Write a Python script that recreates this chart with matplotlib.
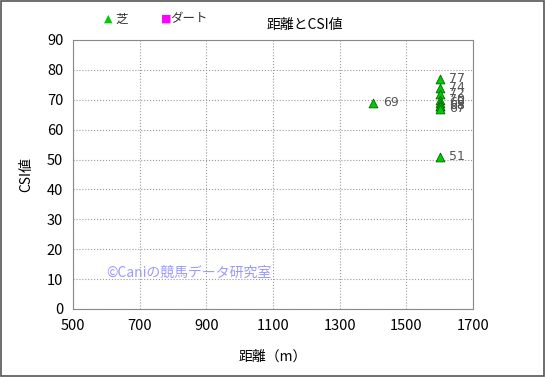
import matplotlib
matplotlib.use("Agg")
import matplotlib.pyplot as plt
from matplotlib.patches import Rectangle

plt.rcParams['font.family'] = ['Noto Sans CJK JP', 'DejaVu Sans']

# turf (芝) races: distance and CSI value
turf_dist = [1400, 1600, 1600, 1600, 1600, 1600, 1600, 1600, 1600, 1600]
turf_csi = [69, 77, 74, 72, 70, 69, 68, 68, 67, 51]
# dirt (ダート) races: none
dirt_dist = []
dirt_csi = []

x_ticks = [500, 700, 900, 1100, 1300, 1500, 1700]
y_ticks = [0, 10, 20, 30, 40, 50, 60, 70, 80, 90]

fig = plt.figure(figsize=(5.45, 3.77), dpi=100)
ax = fig.add_axes([73 / 545, 1 - 309 / 377, 400 / 545, 269 / 377])

ax.scatter(turf_dist, turf_csi, marker='^', s=40, c='#00cc00',
           edgecolors='#006600', linewidths=0.6, zorder=3)
ax.scatter(dirt_dist, dirt_csi, marker='s', s=30, c='#ff00ff', zorder=3)

for x, y in zip(turf_dist, turf_csi):
    ax.annotate(str(y), (x, y), xytext=(7, 0), textcoords='offset points',
                fontsize=9, color='#555555', va='center', family='DejaVu Sans')

ax.set_xlim(500, 1700)
ax.set_ylim(0, 90)
ax.set_xticks(x_ticks)
ax.set_yticks(y_ticks)
ax.tick_params(length=0, labelsize=10.5, pad=7)
ax.grid(True, linestyle=':', color='#999999', linewidth=0.8)
for s in ax.spines.values():
    s.set_color('#888888')

ax.set_xlabel('距離（m）', fontsize=10, labelpad=12)
ax.set_ylabel('CSI値', fontsize=10, labelpad=10)

ax.text(600, 12, '©Caniの競馬データ研究室', color='#9999ff', fontsize=10, va='center')

fig.text(0.56, 0.935, '距離とCSI値', fontsize=10, ha='center', va='center')
fig.text(0.19, 0.95, '▲', color='#00cc00', fontsize=8, ha='left', va='center', family='DejaVu Sans')
fig.text(0.212, 0.95, '芝', fontsize=9, ha='left', va='center', color='#333333')
fig.text(0.295, 0.95, '■', color='#ff00ff', fontsize=8, ha='left', va='center', family='DejaVu Sans')
fig.text(0.313, 0.95, 'ダート', fontsize=9, ha='left', va='center', color='#333333')

fig.patches.append(Rectangle((0.002, 0.003), 0.996, 0.994, transform=fig.transFigure,
                             fill=False, edgecolor='#555555', linewidth=1.2))

fig.savefig('out.png', dpi=100)
